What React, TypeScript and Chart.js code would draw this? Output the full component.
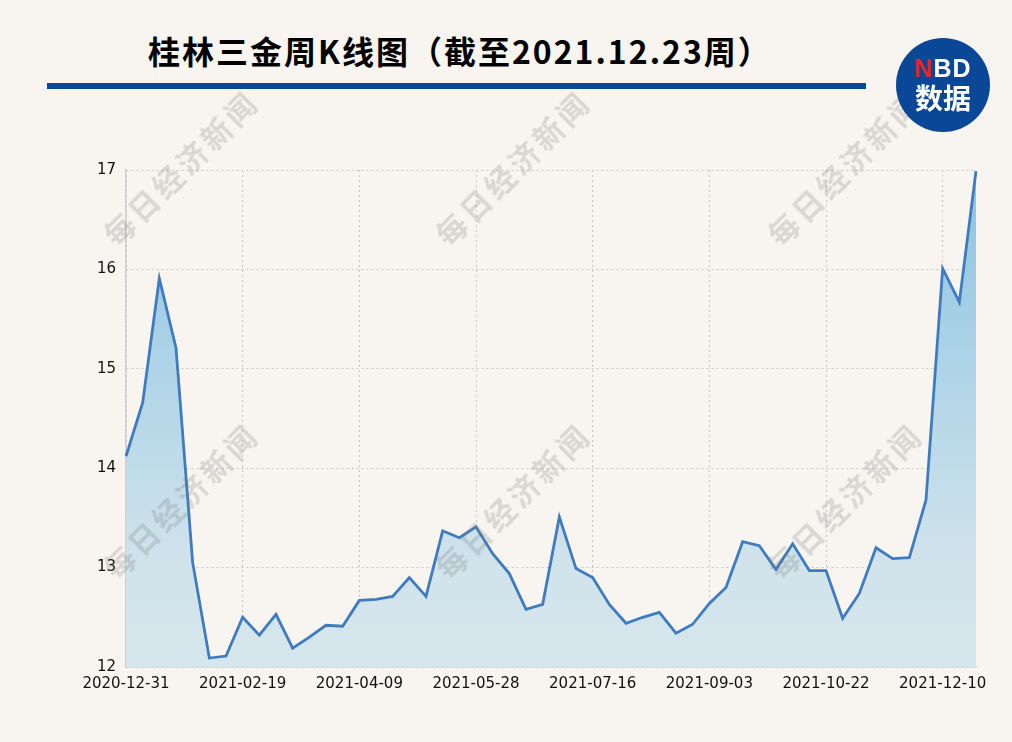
import React, { useEffect, useRef } from "react";
import { Chart, registerables } from "chart.js";

Chart.register(...registerables);

const titleText = "桂林三金周K线图（截至2021.12.23周）";
const watermarkText = "每日经济新闻";

const weekLabels = [
  "2020-12-31", "2021-01-08", "2021-01-15", "2021-01-22", "2021-01-29", "2021-02-05", "2021-02-10",
  "2021-02-19", "2021-02-26", "2021-03-05", "2021-03-12", "2021-03-19", "2021-03-26", "2021-04-02",
  "2021-04-09", "2021-04-16", "2021-04-23", "2021-04-30", "2021-05-07", "2021-05-14", "2021-05-21",
  "2021-05-28", "2021-06-04", "2021-06-11", "2021-06-18", "2021-06-25", "2021-07-02", "2021-07-09",
  "2021-07-16", "2021-07-23", "2021-07-30", "2021-08-06", "2021-08-13", "2021-08-20", "2021-08-27",
  "2021-09-03", "2021-09-10", "2021-09-17", "2021-09-24", "2021-09-30", "2021-10-08", "2021-10-15",
  "2021-10-22", "2021-10-29", "2021-11-05", "2021-11-12", "2021-11-19", "2021-11-26", "2021-12-03",
  "2021-12-10", "2021-12-17", "2021-12-23",
];

const closePrices = [
  14.12, 14.66, 15.91, 15.21, 13.05, 12.09, 12.11,
  12.5, 12.32, 12.53, 12.19, 12.3, 12.42, 12.41,
  12.67, 12.68, 12.71, 12.9, 12.71, 13.37, 13.3,
  13.41, 13.14, 12.94, 12.58, 12.63, 13.51, 12.99,
  12.9, 12.63, 12.44, 12.5, 12.55, 12.34, 12.43,
  12.64, 12.8, 13.26, 13.22, 12.98, 13.24, 12.97,
  12.97, 12.49, 12.74, 13.2, 13.09, 13.1, 13.68,
  16.01, 15.67, 16.99,
];

const yMin = 12;
const yMax = 17;
const labelEvery = 7;

const W = 1012;
const H = 742;
const AREA = { left: 126, top: 170, right: 976, bottom: 667 };

export default function App() {
  const canvasRef = useRef<HTMLCanvasElement | null>(null);

  useEffect(() => {
    const canvas = canvasRef.current;
    if (!canvas) return;
    const chart = new Chart(canvas, {
      type: "line",
      data: {
        labels: weekLabels,
        datasets: [
          {
            data: closePrices,
            borderColor: "#3f7cbf",
            borderWidth: 2.8,
            pointRadius: 0,
            tension: 0,
            fill: "start",
            backgroundColor: (ctx: any) => {
              const area = ctx.chart.chartArea;
              if (!area) return "#c8dfea";
              const g = ctx.chart.ctx.createLinearGradient(0, area.top, 0, area.bottom);
              g.addColorStop(0, "#8cc3e1");
              g.addColorStop(0.45, "#b3d6e8");
              g.addColorStop(0.8, "#d1e3eb");
              g.addColorStop(1, "#d6e6ed");
              return g;
            },
          },
        ],
      },
      options: {
        responsive: false,
        animation: false,
        layout: {
          padding: { left: 0, top: AREA.top, right: W - AREA.right, bottom: 0 },
        },
        plugins: { legend: { display: false }, tooltip: { enabled: false } },
        scales: {
          x: {
            type: "category",
            offset: false,
            afterFit: (s: any) => {
              s.height = H - AREA.bottom;
            },
            grid: {
              drawTicks: false,
              color: (c: any) => (c.index % labelEvery === 0 ? "#c6c6c6" : "rgba(0,0,0,0)"),
              lineWidth: 1,
            },
            border: { display: true, color: "#cfcfcf", width: 1.5, dash: [2, 3] },
            ticks: {
              autoSkip: false,
              maxRotation: 0,
              minRotation: 0,
              padding: 8,
              color: "#111",
              font: { family: "DejaVu Sans", size: 15 },
              callback: (_v: any, i: number) => (i % labelEvery === 0 ? weekLabels[i] : ""),
            },
          },
          y: {
            min: yMin,
            max: yMax,
            afterFit: (s: any) => {
              s.width = AREA.left;
            },
            grid: { drawTicks: false, color: "#c6c6c6", lineWidth: 1 },
            border: { display: true, color: "#cfcfcf", width: 1.5, dash: [2, 3] },
            ticks: {
              stepSize: 1,
              padding: 10,
              color: "#111",
              font: { family: "DejaVu Sans", size: 15 },
            },
          },
        },
      },
    });
    return () => chart.destroy();
  }, []);

  const marks: { x: number; y: number }[] = [];
  for (let r = 0; r < 2; r++) {
    for (let c = 0; c < 3; c++) {
      marks.push({ x: 180 + c * 332, y: 167 + r * 333 });
    }
  }

  return (
    <div
      style={{
        position: "absolute",
        left: 0,
        top: 0,
        width: W,
        height: H,
        background: "#f8f5f1",
        overflow: "hidden",
      }}
    >
      <div
        style={{
          position: "absolute",
          left: 148,
          top: 34,
          fontFamily: "'Noto Sans CJK SC', sans-serif",
          fontWeight: 700,
          fontSize: 32,
          letterSpacing: 2,
          lineHeight: "32px",
          color: "#000",
          whiteSpace: "nowrap",
        }}
      >
        {titleText}
      </div>
      <div
        style={{
          position: "absolute",
          left: 47,
          top: 83,
          width: 819,
          height: 6,
          background: "#0a4797",
        }}
      />
      <canvas
        ref={canvasRef}
        width={W}
        height={H}
        style={{ position: "absolute", left: 0, top: 0, width: W, height: H }}
      />
      {marks.map((m, i) => (
        <div
          key={i}
          style={{
            position: "absolute",
            left: m.x,
            top: m.y,
            transform: "translate(-50%, -50%) rotate(-45deg)",
            fontFamily: "'Noto Sans CJK SC', serif",
            fontWeight: 700,
            fontSize: 30,
            letterSpacing: 4,
            color: "rgba(110,110,110,0.22)",
            whiteSpace: "nowrap",
            pointerEvents: "none",
          }}
        >
          {watermarkText}
        </div>
      ))}
      <div
        style={{
          position: "absolute",
          left: 896,
          top: 38,
          width: 94,
          height: 94,
          borderRadius: "50%",
          background: "#0a4797",
          color: "#fff",
          textAlign: "center",
          fontFamily: "'Noto Sans CJK SC', 'Liberation Sans', sans-serif",
          fontWeight: 700,
        }}
      >
        <div
          style={{
            position: "absolute",
            left: 0,
            width: 94,
            top: 17,
            fontFamily: "'Liberation Sans', Arial, sans-serif",
            fontSize: 25,
            lineHeight: "26px",
            letterSpacing: 1,
          }}
        >
          <span style={{ color: "#e5262b" }}>N</span>BD
        </div>
        <div
          style={{
            position: "absolute",
            left: 0,
            width: 94,
            top: 44,
            fontSize: 28,
            lineHeight: "30px",
          }}
        >
          数据
        </div>
      </div>
    </div>
  );
}
